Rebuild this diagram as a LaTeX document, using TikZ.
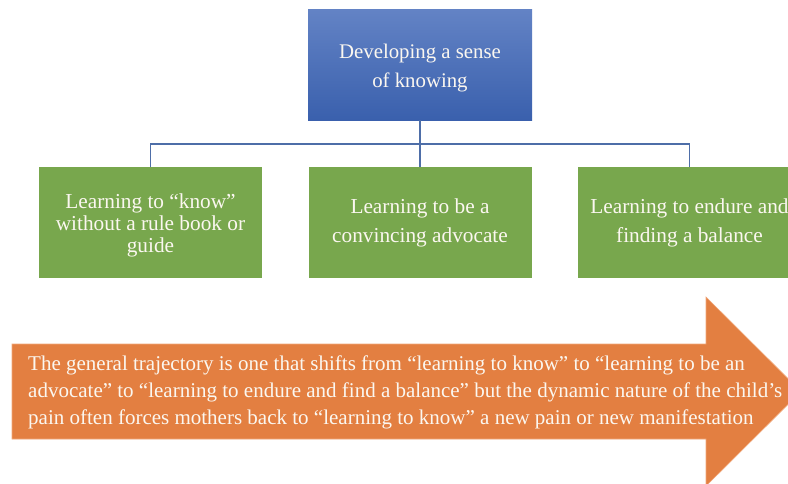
\documentclass[tikz,border=0pt]{standalone}
\usepackage{fontspec}
\setmainfont{Liberation Serif}
\definecolor{topA}{HTML}{6383C5}
\definecolor{topB}{HTML}{3A60AD}
\definecolor{grn}{HTML}{78A74D}
\definecolor{org}{HTML}{E37F41}
\definecolor{orgedge}{HTML}{F0A77A}
\definecolor{lnk}{HTML}{4E6EA8}
\definecolor{txt}{HTML}{FBF7F0}
\tikzset{
  topbox/.style={rectangle, top color=topA, bottom color=topB, minimum width=224pt, minimum height=111pt, inner sep=0pt},
  subbox/.style={rectangle, fill=grn, minimum width=223pt, minimum height=111pt, inner sep=0pt},
  boxtext/.style={text=txt, align=center, inner sep=0pt},
  link/.style={draw=lnk, line width=1.3pt},
  arrowtext/.style={text=txt, align=left, inner sep=0pt, anchor=west, font=\fontsize{21}{27}\selectfont}
}
\begin{document}
\begin{tikzpicture}[x=1pt,y=-1pt]
\useasboundingbox (0,0) rectangle (788,483);
\clip (0,0) rectangle (788,483);
% orange arrow
\path[fill=org, draw=orgedge, line width=0.6pt] (12,344) -- (706,344) -- (706,297) -- (801,391.5) -- (706,486) -- (706,439) -- (12,439) -- cycle;
\node[arrowtext] (arrtext) at (28,392) {The general trajectory is one that shifts from “learning to know” to “learning to be an\\advocate” to “learning to endure and find a balance” but the dynamic nature of the child’s\\pain often forces mothers back to “learning to know” a new pain or new manifestation};
% boxes
\node[topbox] (top) at (420,64.5) {};
\node[subbox] (left) at (150.5,222.5) {};
\node[subbox] (mid) at (420,222.5) {};
\node[subbox] (right) at (689.5,222.5) {};
\node[boxtext, font=\fontsize{20.8}{28.5}\selectfont] (toptext) at (420,68) {Developing a sense\\of knowing};
\node[boxtext, font=\fontsize{21.3}{22}\selectfont] (lefttext) at (150.5,225.5) {Learning to “know”\\without a rule book or\\guide};
\node[boxtext, font=\fontsize{21.3}{29}\selectfont] (midtext) at (420,223) {Learning to be a\\convincing advocate};
\node[boxtext, font=\fontsize{21.3}{29}\selectfont] (righttext) at (689.5,223) {Learning to endure and\\finding a balance};
% connectors
\coordinate (bus) at (420,144);
\draw[link] (left.north) |- (bus) -| (right.north);
\draw[link] (top.south) -- (mid.north);
\end{tikzpicture}
\end{document}
